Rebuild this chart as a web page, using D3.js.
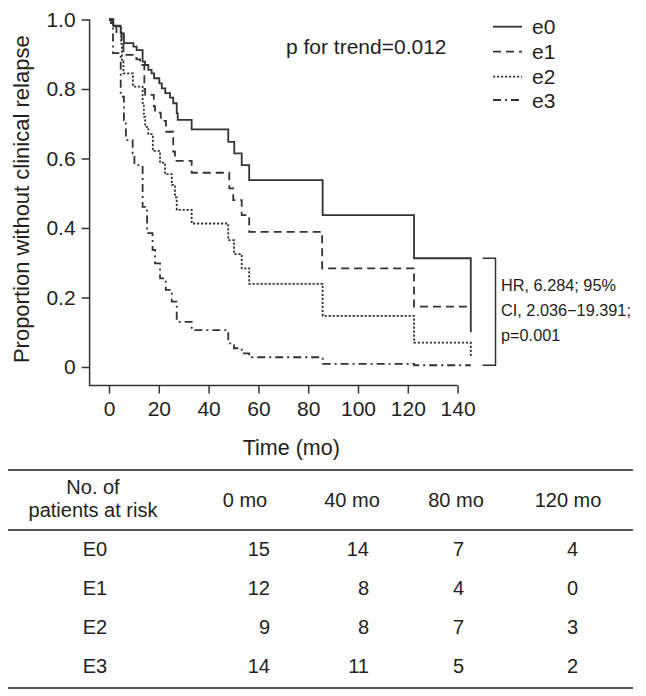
<!DOCTYPE html>
<html>
<head>
<meta charset="utf-8">
<script src="https://cdn.jsdelivr.net/npm/d3@7"></script>
<style>
  html, body { margin: 0; padding: 0; background: #fff; }
  svg { display: block; }
  text { font-family: "Liberation Sans", Arial, Helvetica, sans-serif; fill: #231f20; }
</style>
</head>
<body>
<svg id="chart" width="646" height="696"></svg>
<script>
// ---------- data ----------
const seriesNames = ["e0", "e1", "e2", "e3"];

const e0Time = [0, 0.8, 1.7, 4.7, 6.0, 9.8, 11.1, 13.5, 14.5, 15.8, 17.1, 18.1, 20.2, 21.2, 22.6, 24.5, 25.8, 27.2, 27.6, 33.2, 47.9, 50.3, 53.3, 56.3, 85.8, 122.5, 145.3, 145.3];
const e0Surv = [1.0, 0.99, 0.982, 0.96, 0.932, 0.922, 0.912, 0.879, 0.869, 0.855, 0.845, 0.831, 0.816, 0.802, 0.788, 0.775, 0.759, 0.730, 0.711, 0.684, 0.648, 0.615, 0.581, 0.538, 0.437, 0.313, 0.313, 0.10];

const e1Time = [0, 1.7, 3.0, 5.1, 5.8, 11.0, 12.5, 14.2, 14.5, 18.0, 18.5, 20.8, 22.9, 25.8, 26.5, 33.2, 48.3, 49.9, 53.3, 56.3, 85.6, 122.5, 145.3];
const e1Surv = [1.0, 0.98, 0.96, 0.93, 0.898, 0.885, 0.869, 0.80, 0.783, 0.75, 0.732, 0.708, 0.677, 0.62, 0.593, 0.559, 0.514, 0.48, 0.437, 0.389, 0.284, 0.174, 0.174];

const e2Time = [0, 1.7, 4.9, 5.2, 5.8, 9.6, 13.5, 14.0, 14.5, 15.8, 17.6, 20.5, 22.5, 25.2, 26.5, 27.2, 33.2, 47.9, 50.2, 53.3, 56.3, 85.8, 122.5, 145.3, 145.3];
const e2Surv = [1.0, 0.98, 0.93, 0.88, 0.845, 0.807, 0.76, 0.72, 0.691, 0.67, 0.622, 0.588, 0.555, 0.524, 0.488, 0.452, 0.413, 0.365, 0.325, 0.284, 0.239, 0.147, 0.070, 0.070, 0.03];

const e3Time = [0, 1.6, 4.7, 6.0, 6.8, 9.5, 10.2, 13.5, 15.3, 17.5, 18.5, 20.5, 22.8, 25.2, 27.2, 33.2, 47.9, 50.2, 53.3, 56.3, 85.8, 122.5, 145.3];
const e3Surv = [1.0, 0.903, 0.778, 0.71, 0.653, 0.615, 0.581, 0.461, 0.385, 0.337, 0.298, 0.255, 0.222, 0.188, 0.130, 0.106, 0.068, 0.054, 0.039, 0.028, 0.009, 0.005, 0.005];

const xTicks = [0, 20, 40, 60, 80, 100, 120, 140];
const yTicks = [0, 0.2, 0.4, 0.6, 0.8, 1.0];
const yTickLabels = ["0", "0.2", "0.4", "0.6", "0.8", "1.0"];

const pTrendText = "p for trend=0.012";
const hrLines = ["HR, 6.284; 95%", "CI, 2.036\u221219.391;", "p=0.001"];
const bracketTop = 0.313;
const bracketBottom = 0.005;

const riskHeader = ["No. of", "patients at risk"];
const riskTimes = ["0 mo", "40 mo", "80 mo", "120 mo"];
const riskGroups = ["E0", "E1", "E2", "E3"];
const riskE0 = [15, 14, 7, 4];
const riskE1 = [12, 8, 4, 0];
const riskE2 = [9, 8, 7, 3];
const riskE3 = [14, 11, 5, 2];

// ---------- layout ----------
const svg = d3.select("#chart");
const ink = "#231f20";
const lineInk = "#333";
const x = d3.scaleLinear().domain([0, 140]).range([109, 457.6]);
const y = d3.scaleLinear().domain([0, 1]).range([367, 19.5]);
const axisX = 89.6;   // y-axis line position
const axisY = 385.5;  // x-axis line position

const series = [
  { name: "e0", t: e0Time, s: e0Surv, dash: null },
  { name: "e1", t: e1Time, s: e1Surv, dash: "8,5" },
  { name: "e2", t: e2Time, s: e2Surv, dash: "2.2,1.8" },
  { name: "e3", t: e3Time, s: e3Surv, dash: "8,4,2,4" }
];

// ---------- axes ----------
const yAxis = d3.axisLeft(y).tickValues(yTicks).tickFormat((d, i) => yTickLabels[i])
  .tickSize(8).tickSizeOuter(0).tickPadding(6);
const gy = svg.append("g").attr("transform", `translate(${axisX},0)`).call(yAxis);
gy.select(".domain").remove();
gy.selectAll("line").attr("stroke", lineInk).attr("stroke-width", 1.5);
gy.selectAll("text").attr("font-size", 21).attr("fill", ink)
  .style("font-family", '"Liberation Sans", Arial, sans-serif');

const xAxis = d3.axisBottom(x).tickValues(xTicks).tickSize(8).tickSizeOuter(0).tickPadding(8);
const gx = svg.append("g").attr("transform", `translate(0,${axisY})`).call(xAxis);
gx.select(".domain").remove();
gx.selectAll("line").attr("stroke", lineInk).attr("stroke-width", 1.5);
gx.selectAll("text").attr("font-size", 21).attr("fill", ink)
  .style("font-family", '"Liberation Sans", Arial, sans-serif');

svg.append("path")
  .attr("d", `M${axisX},${y(1)}V${axisY}H${x(140)}`)
  .attr("fill", "none").attr("stroke", lineInk).attr("stroke-width", 1.5);

svg.append("text").attr("x", (x(0) + x(140)) / 2 + 8).attr("y", 455)
  .attr("text-anchor", "middle").attr("font-size", 21.5).text("Time (mo)");

svg.append("text")
  .attr("transform", `translate(29,${(y(0) + y(1)) / 2 + 6}) rotate(-90)`)
  .attr("text-anchor", "middle").attr("font-size", 22).text("Proportion without clinical relapse");

// ---------- curves ----------
const stepLine = d3.line().curve(d3.curveStepAfter).x(d => x(d[0])).y(d => y(d[1]));
series.forEach(sr => {
  const pts = sr.t.map((t, i) => [t, sr.s[i]]);
  svg.append("path").attr("d", stepLine(pts))
    .attr("fill", "none").attr("stroke", lineInk).attr("stroke-width", 1.8)
    .attr("stroke-dasharray", sr.dash);
});

// ---------- legend ----------
const legendY = [26.7, 51.7, 76.7, 100];
series.forEach((sr, i) => {
  svg.append("line").attr("x1", 493).attr("x2", 522).attr("y1", legendY[i]).attr("y2", legendY[i])
    .attr("stroke", lineInk).attr("stroke-width", 1.8).attr("stroke-dasharray", sr.dash);
  svg.append("text").attr("x", 532).attr("y", legendY[i] + 7.5).attr("font-size", 21).text(seriesNames[i]);
});

svg.append("text").attr("x", 286).attr("y", 54).attr("font-size", 21).text(pTrendText);

// ---------- HR bracket ----------
svg.append("path")
  .attr("d", `M482.5,${y(bracketTop)}H495.5V${y(bracketBottom)}H482.5`)
  .attr("fill", "none").attr("stroke", lineInk).attr("stroke-width", 1.5);
hrLines.forEach((s, i) => {
  svg.append("text").attr("x", 501).attr("y", 291 + i * 25).attr("font-size", 16.3).text(s);
});

// ---------- risk table ----------
const tblL = 8, tblR = 633;
[470, 530, 688].forEach(yy => {
  svg.append("line").attr("x1", tblL).attr("x2", tblR).attr("y1", yy).attr("y2", yy)
    .attr("stroke", ink).attr("stroke-width", 1.5);
});
svg.append("text").attr("x", 93).attr("y", 494).attr("text-anchor", "middle").attr("font-size", 20).text(riskHeader[0]);
svg.append("text").attr("x", 93).attr("y", 517).attr("text-anchor", "middle").attr("font-size", 20).text(riskHeader[1]);
const colCenters = [245, 352, 456, 568];
const colRights = [270, 369, 464, 578];
riskTimes.forEach((s, i) => {
  svg.append("text").attr("x", colCenters[i]).attr("y", 507).attr("text-anchor", "middle").attr("font-size", 20).text(s);
});
const rows = [riskE0, riskE1, riskE2, riskE3];
const rowY = [556, 595, 634, 673];
riskGroups.forEach((g, r) => {
  svg.append("text").attr("x", 95).attr("y", rowY[r]).attr("text-anchor", "middle").attr("font-size", 20).text(g);
  rows[r].forEach((v, c) => {
    svg.append("text").attr("x", colRights[c]).attr("y", rowY[r]).attr("text-anchor", "end").attr("font-size", 20).text(v);
  });
});
</script>
</body>
</html>
